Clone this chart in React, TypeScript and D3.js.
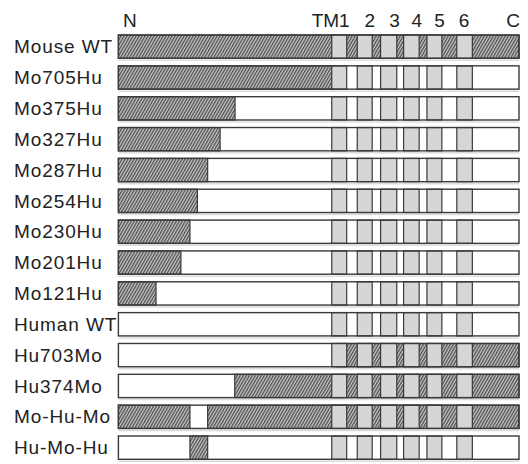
import React from "react";
import * as d3 from "d3";

// Construct names (rows)
const constructs = [
  "Mouse WT",
  "Mo705Hu",
  "Mo375Hu",
  "Mo327Hu",
  "Mo287Hu",
  "Mo254Hu",
  "Mo230Hu",
  "Mo201Hu",
  "Mo121Hu",
  "Human WT",
  "Hu703Mo",
  "Hu374Mo",
  "Mo-Hu-Mo",
  "Hu-Mo-Hu",
];

// Mouse-derived (hatched) segments per construct, in residue units
const mouseSegments: number[][][] = [
  [[0, 1288]],
  [[0, 705]],
  [[0, 375]],
  [[0, 327]],
  [[0, 287]],
  [[0, 254]],
  [[0, 230]],
  [[0, 201]],
  [[0, 121]],
  [],
  [[703, 1288]],
  [[374, 1288]],
  [[0, 230], [287, 1288]],
  [[230, 287]],
];

// Transmembrane segments
const tmLabels = ["TM1", "2", "3", "4", "5", "6"];
const tmStarts = [686, 768, 843, 917, 992, 1088];
const tmEnds = [734, 816, 895, 967, 1040, 1138];
const proteinLength = 1288;
const nLabel = "N";
const cLabel = "C";

const W = 528;
const H = 464;
const FONT = "'Liberation Sans', Arial, Helvetica, sans-serif";

export default function App() {
  const x = d3.scaleLinear().domain([0, proteinLength]).range([118.4, 519]);
  const y = d3
    .scaleBand<string>()
    .domain(constructs)
    .range([35, 459.3])
    .paddingInner(0.245)
    .paddingOuter(0);
  const bh = y.bandwidth();
  const stroke = "#3a3a3a";

  return (
    <svg
      width={W}
      height={H}
      style={{ position: "absolute", left: 0, top: 0, background: "#fff" }}
      fontFamily={FONT}
    >
      <defs>
        <pattern
          id="hatch"
          width={2.6}
          height={6}
          patternUnits="userSpaceOnUse"
          patternTransform="rotate(30)"
        >
          <rect width={2.6} height={6} fill="#c8c8c8" />
          <line x1={0.65} y1={0} x2={0.65} y2={6} stroke="#4e4e4e" strokeWidth={1.3} />
        </pattern>
      </defs>

      {/* header labels */}
      <text x={x(0) + 4.5} y={27} fontSize={19} fill="#222">
        {nLabel}
      </text>
      {tmLabels.map((t, i) => (
        <text
          key={t}
          x={x(tmEnds[i]) + (i === 5 ? -3 : 3)}
          y={27}
          fontSize={19}
          fill="#222"
          textAnchor="end"
        >
          {t}
        </text>
      ))}
      <text x={x(proteinLength) + 1} y={27} fontSize={19} fill="#222" textAnchor="end">
        {cLabel}
      </text>

      {constructs.map((name, r) => {
        const y0 = y(name)!;
        return (
          <g key={name}>
            <text
              x={14}
              y={y0 + bh / 2}
              dy="0.35em"
              fontSize={19}
              letterSpacing={0.9}
              fill="#222"
            >
              {name}
            </text>
            {/* faint shadow line */}
            <line
              x1={x(0)}
              x2={x(proteinLength)}
              y1={y0 + bh + 2}
              y2={y0 + bh + 2}
              stroke="#dcdcdc"
              strokeWidth={1.5}
            />
            <rect x={x(0)} y={y0} width={x(proteinLength) - x(0)} height={bh} fill="#fff" />
            {mouseSegments[r].map(([a, b], k) => (
              <rect
                key={k}
                x={x(a)}
                y={y0}
                width={x(b) - x(a)}
                height={bh}
                fill="url(#hatch)"
                stroke={stroke}
                strokeWidth={1.2}
              />
            ))}
            {tmStarts.map((s, i) => (
              <rect
                key={i}
                x={x(s)}
                y={y0}
                width={x(tmEnds[i]) - x(s)}
                height={bh}
                fill="#d6d6d6"
                stroke={stroke}
                strokeWidth={1.2}
              />
            ))}
            <rect
              x={x(0)}
              y={y0}
              width={x(proteinLength) - x(0)}
              height={bh}
              fill="none"
              stroke={stroke}
              strokeWidth={1.4}
            />
          </g>
        );
      })}
    </svg>
  );
}
